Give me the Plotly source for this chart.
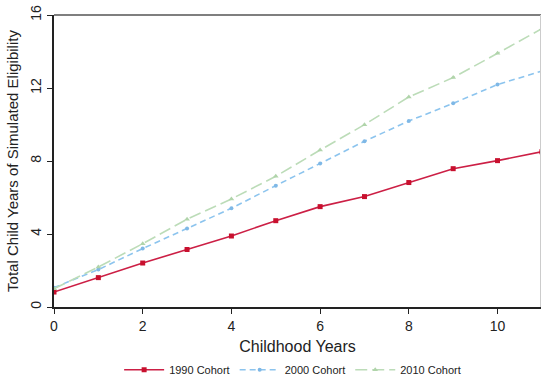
import plotly.graph_objects as go

# Childhood years (x) and cumulative simulated eligibility per cohort
years = list(range(0, 12))
cohort_1990 = [0.82, 1.61, 2.41, 3.15, 3.89, 4.73, 5.50, 6.05, 6.82, 7.58, 8.02, 8.51]
cohort_2000 = [1.06, 2.05, 3.20, 4.30, 5.41, 6.65, 7.86, 9.08, 10.19, 11.16, 12.19, 12.93]
cohort_2010 = [1.00, 2.19, 3.47, 4.81, 5.92, 7.16, 8.60, 9.99, 11.51, 12.57, 13.90, 15.25]
y_ticks = [0, 4, 8, 12, 16]
x_ticks = [0, 2, 4, 6, 8, 10]

FONT = "Liberation Sans, Arial, sans-serif"

fig = go.Figure()
fig.add_trace(go.Scatter(
    x=years, y=cohort_1990, name="1990 Cohort", mode="lines+markers",
    line=dict(color="#cc1f45", width=1.6),
    marker=dict(symbol="square", size=5, color="#c8102e"),
))
fig.add_trace(go.Scatter(
    x=years, y=cohort_2000, name="2000 Cohort", mode="lines+markers",
    line=dict(color="#8cc4ee", width=1.6, dash="6px,4px"),
    marker=dict(symbol="circle", size=4, color="#7fb8e6"),
))
fig.add_trace(go.Scatter(
    x=years, y=cohort_2010, name="2010 Cohort", mode="lines+markers",
    line=dict(color="#bcdcb8", width=1.6, dash="12px,5px"),
    marker=dict(symbol="triangle-up", size=5, color="#b0d4aa"),
))

fig.update_layout(
    width=541, height=380,
    margin=dict(l=54, r=0, t=15, b=73, autoexpand=False),
    paper_bgcolor="white", plot_bgcolor="white",
    font=dict(family=FONT, size=13, color="#222"),
    showlegend=True,
    legend=dict(orientation="h", x=0.49, xanchor="center", y=-0.215, yanchor="middle",
                font=dict(size=11, color="#222"), itemwidth=40, tracegroupgap=0),
    xaxis=dict(
        range=[0, 10.98], tickvals=x_ticks, showgrid=False, zeroline=False,
        showline=True, linecolor="#222", linewidth=2,
        ticks="outside", ticklen=5, tickcolor="#222", tickfont=dict(size=14),
        title=dict(text="Childhood Years", font=dict(size=16), standoff=8),
    ),
    yaxis=dict(
        range=[0, 16], tickvals=y_ticks, showgrid=False, zeroline=False,
        showline=True, linecolor="#222", linewidth=2,
        ticks="outside", ticklen=5, tickcolor="#222", tickfont=dict(size=14),
        tickangle=-90,
        title=dict(text="Total Child Years of Simulated Eligibility", font=dict(size=15), standoff=6),
    ),
    shapes=[
        dict(type="line", xref="paper", yref="paper", x0=0, x1=1, y0=1, y1=1,
             line=dict(color="#555", width=1.5)),
        dict(type="line", xref="paper", yref="paper", x0=0.999, x1=0.999, y0=0, y1=1,
             line=dict(color="#ccc", width=1)),
    ],
)

fig.write_html("out.html")
